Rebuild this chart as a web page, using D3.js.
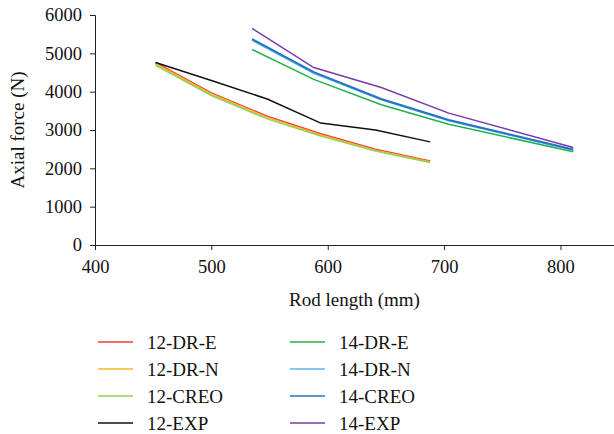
<!DOCTYPE html>
<html>
<head>
<meta charset="utf-8">
<script src="https://cdn.jsdelivr.net/npm/d3@7"></script>
<style>
  body { margin: 0; background: #fff; }
  text { font-family: "Liberation Serif", "Times New Roman", serif; fill: #111; }
</style>
</head>
<body>
<svg id="chart" width="614" height="434"></svg>
<script>
// rod lengths (mm) for the two rod groups
const x12 = [452, 500, 548, 594, 641, 688];
const x14 = [535, 588, 646, 704, 811];

// axial force (N)
const dr12E = [4760, 3970, 3360, 2900, 2500, 2190];
const dr12N = [4730, 3940, 3330, 2870, 2470, 2170];
const creo12 = [4690, 3900, 3290, 2840, 2450, 2150];
const exp12 = [4760, 4290, 3810, 3180, 3000, 2690];

const dr14E = [5100, 4320, 3660, 3150, 2430];
const dr14N = [5340, 4480, 3790, 3240, 2470];
const creo14 = [5370, 4510, 3810, 3260, 2490];
const exp14 = [5650, 4630, 4110, 3440, 2545];

const xTicks = [400, 500, 600, 700, 800];
const yTicks = [0, 1000, 2000, 3000, 4000, 5000, 6000];

const series = [
  { name: "12-DR-E", xs: x12, ys: dr12E, color: "#f03c3c", w: 1.5 },
  { name: "12-DR-N", xs: x12, ys: dr12N, color: "#f2b630", w: 1.5 },
  { name: "12-CREO", xs: x12, ys: creo12, color: "#8fd14f", w: 1.5 },
  { name: "12-EXP", xs: x12, ys: exp12, color: "#111111", w: 1.5 },
  { name: "14-DR-E", xs: x14, ys: dr14E, color: "#22b04b", w: 1.5 },
  { name: "14-DR-N", xs: x14, ys: dr14N, color: "#5bb8e8", w: 1.5 },
  { name: "14-CREO", xs: x14, ys: creo14, color: "#2474c4", w: 2 },
  { name: "14-EXP", xs: x14, ys: exp14, color: "#7a3aa8", w: 1.5 },
];

const svg = d3.select("#chart");

const MARGIN = { LEFT: 95, TOP: 15, BOTTOM: 245 };
const FONT = "18.5px";

const x = d3.scaleLinear().domain([400, 846]).range([MARGIN.LEFT, 614]);
const y = d3.scaleLinear().domain([0, 6000]).range([MARGIN.BOTTOM, MARGIN.TOP]);

// axes
const xAxis = svg.append("g")
  .attr("transform", `translate(0,${MARGIN.BOTTOM})`)
  .call(d3.axisBottom(x).tickValues(xTicks).tickSize(5).tickPadding(10).tickFormat(d3.format("d")));
xAxis.selectAll("text").style("font-size", FONT);

const yAxis = svg.append("g")
  .attr("transform", `translate(${MARGIN.LEFT},0)`)
  .call(d3.axisLeft(y).tickValues(yTicks).tickSize(5).tickPadding(8).tickFormat(d3.format("d")));
yAxis.selectAll("text").style("font-size", FONT);

svg.selectAll(".domain").attr("stroke", "#222");
svg.selectAll(".tick line").attr("stroke", "#222");

// axis titles
svg.append("text")
  .attr("x", (MARGIN.LEFT + 614) / 2)
  .attr("y", 306)
  .attr("text-anchor", "middle")
  .style("font-size", "19px")
  .text("Rod length (mm)");

svg.append("text")
  .attr("transform", `translate(24, ${(MARGIN.TOP + MARGIN.BOTTOM) / 2}) rotate(-90)`)
  .attr("text-anchor", "middle")
  .style("font-size", "19px")
  .text("Axial force (N)");

// lines
const line = d3.line().x((d) => x(d[0])).y((d) => y(d[1]));

series.forEach((s) => {
  svg.append("path")
    .datum(s.xs.map((v, i) => [v, s.ys[i]]))
    .attr("fill", "none")
    .attr("stroke", s.color)
    .attr("stroke-width", s.w)
    .attr("d", line);
});

// legend, two columns of four
const legend = svg.append("g");
series.forEach((s, i) => {
  const col = Math.floor(i / 4);
  const row = i % 4;
  const lx = col === 0 ? 98 : 290;
  const ly = 342 + row * 27;
  legend.append("line")
    .attr("x1", lx).attr("x2", lx + 35)
    .attr("y1", ly).attr("y2", ly)
    .attr("stroke", s.color)
    .attr("stroke-width", 1.5);
  legend.append("text")
    .attr("x", lx + 49)
    .attr("y", ly)
    .attr("dy", "0.35em")
    .style("font-size", "19px")
    .text(s.name);
});
</script>
</body>
</html>
